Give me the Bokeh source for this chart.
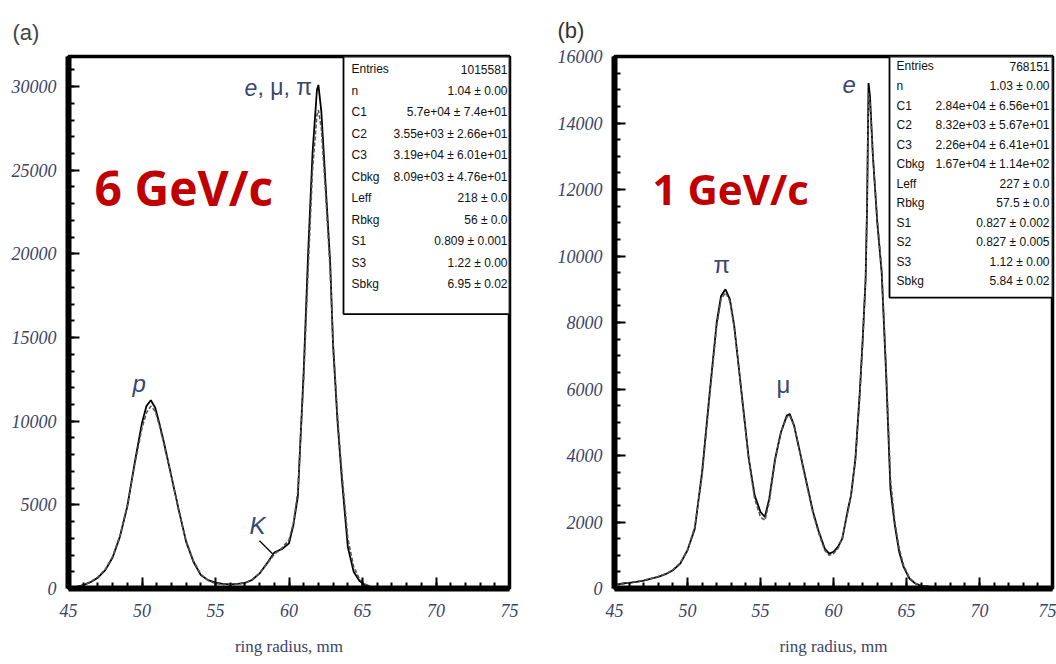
from bokeh.plotting import figure
from bokeh.layouts import row
from bokeh.models import Label, SingleIntervalTicker, Range1d, ColumnDataSource
from bokeh.embed import file_html
from bokeh.resources import INLINE
from bokeh.core.properties import value

# ---------------- data : panel (a) 6 GeV/c ----------------
a_x = [45.0, 45.5, 46.0, 46.5, 47.0, 47.5, 48.0, 48.5, 49.0, 49.5, 50.0, 50.3, 50.6, 50.9,
       51.2, 51.5, 52.0, 52.5, 53.0, 53.5, 54.0, 54.5, 55.0, 55.5, 56.0, 56.5, 57.0, 57.5,
       58.0, 58.5, 59.0, 59.5, 60.0, 60.3, 60.6, 61.0, 61.3, 61.6, 61.9, 62.0, 62.2, 62.5,
       62.8, 63.0, 63.3, 63.6, 64.0, 64.4, 64.8, 65.2, 65.6, 66.0, 67.0, 68.0, 70.0, 72.0, 75.0]
a_data = [20, 80, 200, 380, 650, 1100, 1850, 3100, 4900, 7500, 9900, 10900, 11250, 10800,
          9800, 8700, 6700, 4700, 2800, 1600, 800, 500, 350, 280, 250, 270, 330, 520,
          900, 1500, 2150, 2350, 2700, 3800, 5500, 13000, 20000, 26000, 29800, 30100, 28500, 24000,
          19500, 14500, 10000, 6500, 2500, 1000, 450, 200, 80, 30, 10, 5, 0, 0, 0]
a_fit = [20, 90, 210, 400, 680, 1150, 1900, 3150, 4950, 7400, 9600, 10500, 10900, 10600,
         9700, 8600, 6700, 4650, 2850, 1650, 850, 480, 300, 240, 230, 260, 340, 540,
         920, 1480, 2050, 2400, 2900, 3900, 5800, 12500, 19000, 25000, 28300, 28600, 27500, 23500,
         19000, 14800, 10300, 6900, 3000, 1300, 550, 250, 100, 40, 10, 5, 0, 0, 0]

# ---------------- data : panel (b) 1 GeV/c ----------------
b_x = [45.0, 45.5, 46.0, 46.5, 47.0, 47.5, 48.0, 48.5, 49.0, 49.5, 50.0, 50.5, 51.0, 51.5,
       52.0, 52.3, 52.6, 52.9, 53.2, 53.5, 53.8, 54.2, 54.6, 55.0, 55.3, 55.6, 56.0, 56.4,
       56.8, 57.0, 57.3, 57.6, 58.0, 58.3, 58.6, 59.0, 59.4, 59.7, 60.0, 60.3, 60.6, 61.0,
       61.2, 61.5, 61.8, 62.0, 62.2, 62.3, 62.4, 62.5, 62.7, 63.0, 63.3, 63.6, 63.9, 64.2,
       64.5, 64.8, 65.2, 65.6, 66.0, 67.0, 68.0, 70.0, 72.0, 75.0]
b_data = [100, 150, 170, 200, 240, 300, 350, 430, 550, 750, 1150, 1800, 3500, 5800,
          8000, 8800, 9000, 8700, 7900, 6700, 5500, 3900, 2800, 2300, 2150, 2700, 3900, 4700,
          5200, 5250, 4900, 4300, 3500, 2900, 2300, 1700, 1200, 1050, 1100, 1250, 1500, 2400,
          2800, 3900, 5900, 7500, 9300, 11500, 15200, 14800, 13000, 11000, 9500, 6500, 3000, 1900,
          1100, 650, 300, 150, 80, 30, 10, 5, 0, 0]
b_fit = [110, 140, 170, 210, 250, 300, 360, 440, 560, 770, 1150, 1850, 3400, 5700,
         7900, 8700, 8900, 8650, 7850, 6700, 5450, 3850, 2700, 2150, 2050, 2600, 3850, 4700,
         5150, 5200, 4900, 4300, 3450, 2850, 2250, 1650, 1150, 1000, 1050, 1200, 1500, 2350,
         2800, 3850, 5800, 7400, 9300, 11600, 14900, 14600, 13000, 11100, 9600, 6700, 3300, 2000,
         1200, 700, 320, 160, 90, 30, 10, 5, 0, 0]

a_stats_names = ["Entries", "n", "C1", "C2", "C3", "Cbkg", "Leff", "Rbkg", "S1", "S3", "Sbkg"]
a_stats_vals = ["1015581", "1.04 ± 0.00", "5.7e+04 ± 7.4e+01", "3.55e+03 ± 2.66e+01",
                "3.19e+04 ± 6.01e+01", "8.09e+03 ± 4.76e+01", "218 ± 0.0", "56 ± 0.0",
                "0.809 ± 0.001", "1.22 ± 0.00", "6.95 ± 0.02"]
b_stats_names = ["Entries", "n", "C1", "C2", "C3", "Cbkg", "Leff", "Rbkg", "S1", "S2", "S3", "Sbkg"]
b_stats_vals = ["768151", "1.03 ± 0.00", "2.84e+04 ± 6.56e+01", "8.32e+03 ± 5.67e+01",
                "2.26e+04 ± 6.41e+01", "1.67e+04 ± 1.14e+02", "227 ± 0.0", "57.5 ± 0.0",
                "0.827 ± 0.002", "0.827 ± 0.005", "1.12 ± 0.00", "5.84 ± 0.02"]

x_ticks_interval = 5
XMIN, XMAX = 45, 75
YMAX_A = 31800
YMAX_B = 16000

TICK_COLOR = "#3a4468"
ANN_COLOR = "#3a4670"
RED = "#C00000"


def make_fig(width, left, right, top, bottom, ymax, yint, yminor, title, title_off,
             title_color, title_standoff):
    p = figure(width=width, height=664, output_backend="svg", toolbar_location=None,
               x_range=Range1d(XMIN, XMAX), y_range=Range1d(0, ymax),
               min_border_left=left, min_border_right=right,
               min_border_top=top, min_border_bottom=bottom, title=title)
    p.title.align = "left"
    p.title.offset = title_off
    p.title.text_font = "Liberation Sans"
    p.title.text_font_style = "normal"
    p.title.text_font_size = "22px"
    p.title.text_color = title_color
    p.title.standoff = title_standoff
    p.grid.visible = False
    p.outline_line_color = "black"
    p.outline_line_width = 3.5
    p.background_fill_color = "white"
    p.border_fill_color = "white"
    p.xaxis.ticker = SingleIntervalTicker(interval=x_ticks_interval, num_minor_ticks=5)
    p.yaxis.ticker = SingleIntervalTicker(interval=yint, num_minor_ticks=yminor)
    for ax in (p.xaxis[0], p.yaxis[0]):
        ax.axis_line_width = 6
        ax.axis_line_color = "black"
        ax.major_tick_in = 11
        ax.major_tick_out = 0
        ax.minor_tick_in = 6
        ax.minor_tick_out = 0
        ax.major_tick_line_width = 2
        ax.minor_tick_line_width = 2
        ax.major_tick_line_color = "black"
        ax.minor_tick_line_color = "black"
        ax.major_label_text_font = "Liberation Serif"
        ax.major_label_text_font_style = "italic"
        ax.major_label_text_font_size = "18px"
        ax.major_label_text_color = TICK_COLOR
    p.yaxis.major_label_standoff = 12
    p.xaxis.major_label_standoff = 15
    p.xaxis.axis_label = "ring radius, mm"
    p.xaxis.axis_label_text_font = "Liberation Serif"
    p.xaxis.axis_label_text_font_style = "normal"
    p.xaxis.axis_label_text_font_size = "17px"
    p.xaxis.axis_label_text_color = TICK_COLOR
    p.xaxis.axis_label_standoff = 17
    return p


def stats_box(p, names, vals, box_left, box_bottom, ymax, row_top, row_step, name_x, val_x):
    p.quad(left=[box_left], right=[XMAX], bottom=[box_bottom], top=[ymax],
           fill_color="white", line_color="black", line_width=1.8)
    ys = [row_top - i * row_step for i in range(len(names))]
    src_n = ColumnDataSource(dict(x=[name_x] * len(names), y=ys, t=names))
    src_v = ColumnDataSource(dict(x=[val_x] * len(vals), y=ys, t=vals))
    p.text(x="x", y="y", text="t", source=src_n, text_font=value("Liberation Sans"),
           text_font_size="12px", text_baseline="middle", text_align="left", text_color="#111111")
    p.text(x="x", y="y", text="t", source=src_v, text_font=value("Liberation Sans"),
           text_font_size="12px", text_baseline="middle", text_align="right", text_color="#111111")


def ann(p, x, y, txt, size="24px", style="normal", color=ANN_COLOR, font="Liberation Sans",
        align="left", baseline="alphabetic"):
    p.add_layout(Label(x=x, y=y, text=txt, text_font=font, text_font_size=size,
                       text_font_style=style, text_color=color, text_align=align,
                       text_baseline=baseline))


# ---------------- panel (a) ----------------
pa = make_fig(540, 68, 31, 53, 76, YMAX_A, 5000, 5, "(a)", -56, "#444444", 24)
pa.line(a_x, a_data, line_color="black", line_width=1.8)
pa.line(a_x, a_fit, line_color="#555555", line_width=1.6, line_dash="4 2")
# frame pixel helper for annotations (a): frame 68..509 px, 53..588 px
ya = lambda py: (588 - py) / 535 * YMAX_A
xa = lambda px: 45 + (px - 68) / 14.7
stats_box(pa, a_stats_names, a_stats_vals, xa(343), ya(312), YMAX_A,
          ya(66), ya(66) - ya(87.6), xa(351), xa(507))
ann(pa, xa(94), ya(185), "6 GeV/c", size="48px", style="bold", color=RED, font="Open Sans")
ann(pa, xa(132), ya(382), "p", style="italic")
ann(pa, xa(249), ya(525), "K", style="italic")
pa.line([xa(259), xa(272)], [ya(540), ya(553)], line_color="black", line_width=1.3)
ann(pa, xa(244), ya(84), "e", size="23px", style="italic")
ann(pa, xa(257), ya(84), ", μ, π", size="23px")

# ---------------- panel (b) ----------------
pb = make_fig(516, 74, 4, 56, 74, YMAX_B, 2000, 4, "(b)", -57, "#333333", 27)
pb.line(b_x, b_data, line_color="black", line_width=1.8)
pb.line(b_x, b_fit, line_color="#555555", line_width=1.6, line_dash="4 2")
yb = lambda py: (590 - py) / 534 * YMAX_B
xb = lambda px: 45 + (px - 614) / 14.6
stats_box(pb, b_stats_names, b_stats_vals, xb(889), yb(298), YMAX_B,
          yb(66), yb(66) - yb(85.6), xb(896), xb(1049))
ann(pb, xb(652), yb(188), "1 GeV/c", size="42px", style="bold", color=RED, font="Open Sans")
ann(pb, xb(842), yb(84), "e", style="italic")
ann(pb, xb(713), yb(265), "π")
ann(pb, xb(776), yb(385), "μ")

layout = row(pa, pb, spacing=0)
open("out.html", "w").write(file_html(layout, INLINE))
